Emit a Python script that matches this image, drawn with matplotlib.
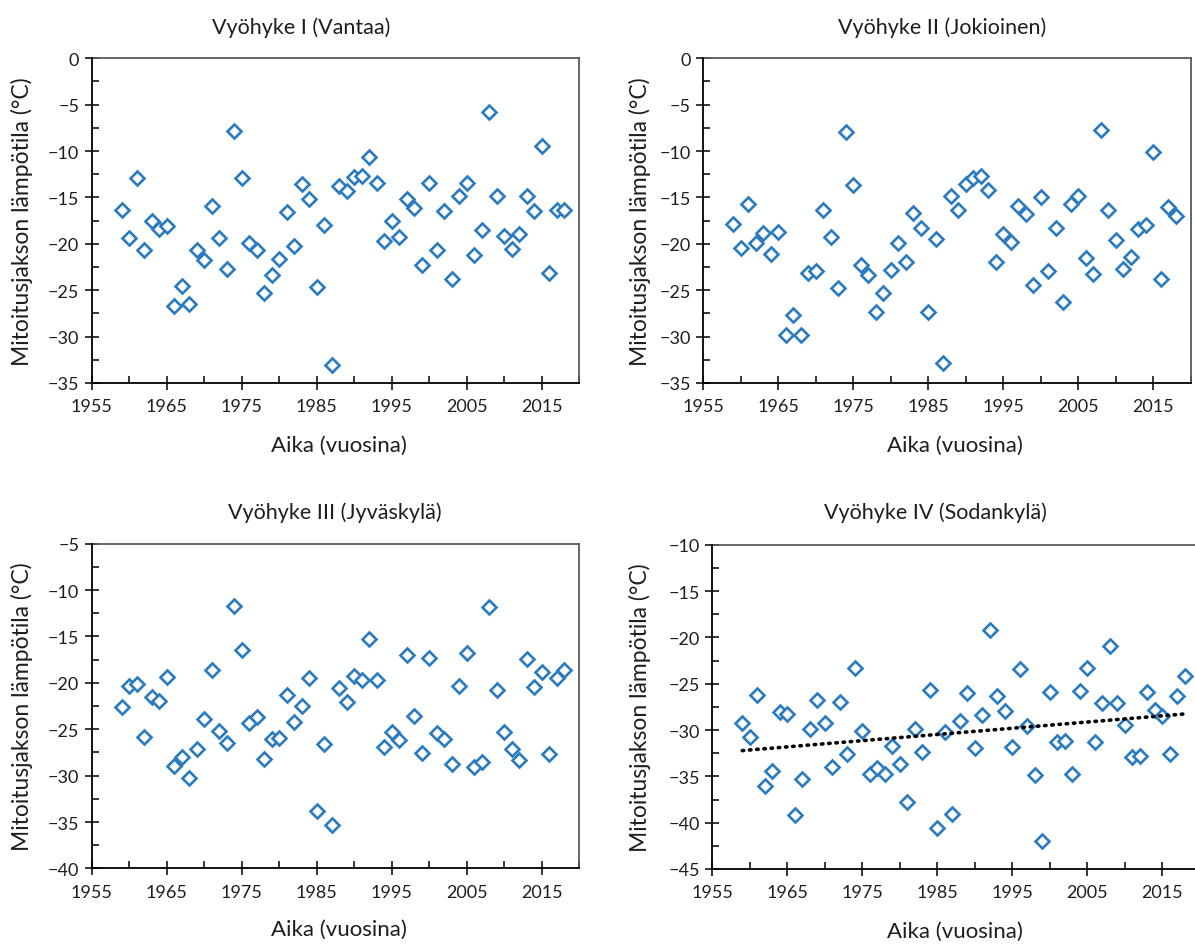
import numpy as np
import matplotlib
matplotlib.use("Agg")
import matplotlib.pyplot as plt
from matplotlib.ticker import MultipleLocator

plt.rcParams['font.family'] = ['Lato', 'DejaVu Sans']

years = list(range(1959, 2019))

vantaa = [-16.3, -19.4, -12.9, -20.65, -17.5, -18.4, -18.1, -26.7, -24.5, -26.5,
          -20.65, -21.7, -15.9, -19.4, -22.7, -7.8, -12.9, -19.9, -20.65, -25.25,
          -23.4, -21.6, -16.6, -20.2, -13.5, -15.2, -24.6, -18.0, -33.1, -13.8,
          -14.3, -12.8, -12.65, -10.6, -13.4, -19.7, -17.5, -19.3, -15.2, -16.1,
          -22.3, -13.4, -20.65, -16.45, -23.8, -14.8, -13.4, -21.2, -18.5, -5.75,
          -14.8, -19.2, -20.55, -18.9, -14.8, -16.45, -9.5, -23.1, -16.4, -16.4]

jokioinen = [-17.9, -20.5, -15.7, -19.9, -18.8, -21.05, -18.75, -29.8, -27.7, -29.8,
             -23.1, -22.95, -16.35, -19.3, -24.75, -7.9, -13.7, -22.3, -23.4, -27.3,
             -25.25, -22.8, -19.9, -22.0, -16.7, -18.3, -27.4, -19.5, -32.8, -14.8,
             -16.35, -13.55, -12.9, -12.7, -14.15, -22.0, -18.95, -19.8, -15.95, -16.8,
             -24.4, -15.0, -22.9, -18.25, -26.3, -15.7, -14.8, -21.5, -23.2, -7.7,
             -16.35, -19.6, -22.7, -21.4, -18.4, -18.0, -10.1, -23.8, -16.05, -17.05]

jyvaskyla = [-22.64, -20.34, -20.13, -25.88, -21.56, -21.92, -19.34, -28.93, -28.03, -30.3,
             -27.17, -23.94, -18.65, -25.16, -26.45, -11.68, -16.5, -24.3, -23.72, -28.25,
             -26.1, -25.98, -21.28, -24.26, -22.53, -19.52, -33.78, -26.56, -35.36, -20.56,
             -22.1, -19.3, -19.66, -15.28, -19.73, -26.95, -25.27, -26.16, -16.97, -23.54,
             -27.53, -17.32, -25.45, -26.09, -28.75, -20.31, -16.82, -29.11, -28.57, -11.79,
             -20.81, -25.34, -27.17, -28.32, -17.4, -20.41, -18.87, -27.67, -19.52, -18.58]

sodankyla = [-29.28, -30.79, -26.19, -36.04, -34.46, -28.09, -28.24, -39.17, -35.29, -29.93,
             -26.8, -29.28, -34.03, -27.01, -32.59, -23.27, -30.07, -34.75, -34.14, -34.75,
             -31.73, -33.67, -37.73, -29.89, -32.41, -25.68, -40.61, -30.18, -39.06, -29.06,
             -26.04, -31.97, -28.34, -19.2, -26.29, -27.91, -31.86, -23.41, -29.56, -34.85,
             -41.94, -25.93, -31.33, -31.15, -34.74, -25.79, -23.27, -31.33, -27.05, -20.9,
             -27.05, -29.46, -32.95, -32.84, -25.93, -27.84, -28.45, -32.59, -26.29, -24.2]

titles = ["Vyöhyke I (Vantaa)", "Vyöhyke II (Jokioinen)",
          "Vyöhyke III (Jyväskylä)", "Vyöhyke IV (Sodankylä)"]
series = [vantaa, jokioinen, jyvaskyla, sodankyla]
ylims = [(-35, 0), (-35, 0), (-40, -5), (-45, -10)]
xlabel = "Aika (vuosina)"
ylabel = "Mitoitusjakson lämpötila (°C)"

W, H = 1195, 945
fig = plt.figure(figsize=(W / 100, H / 100), dpi=100)

# panel geometry in pixels: left, top, width, height
geom = [(91.7, 59.3, 487.5, 324.7), (703.3, 59.3, 487.5, 324.7),
        (91.7, 544.7, 487.5, 324.7), (712.3, 545.7, 487.5, 324.3)]
title_pos = [(301, 28), (942, 28), (335, 513), (935, 513)]
xlab_pos = [(339, 446), (955, 446), (339, 930), (955, 932)]
ylab_x = [22, 640, 22, 640]

blue = '#2a7bbf'
txt = '#1e1e1e'

for i in range(4):
    l, t, w, h = geom[i]
    ax = fig.add_axes([l / W, 1 - (t + h) / H, w / W, h / H])
    ax.plot(years, series[i], linestyle='none', marker='D', markersize=7.2,
            markerfacecolor='white', markeredgecolor=blue, markeredgewidth=1.9,
            clip_on=False, zorder=3)
    if i == 3:
        coef = np.polyfit(years, series[i], 1)
        xs = np.array([years[0], years[-1]])
        ax.plot(xs, np.polyval(coef, xs), color='black', linewidth=2.6,
                linestyle=(0, (0.4, 1.6)), dash_capstyle='round', zorder=4)
    ax.set_xlim(1955, 2020)
    ax.set_ylim(*ylims[i])
    ax.xaxis.set_minor_locator(MultipleLocator(5))
    ax.yaxis.set_major_locator(MultipleLocator(5))
    ax.yaxis.set_minor_locator(MultipleLocator(2.5))
    ax.set_xticks(np.arange(1955, 2016, 10))
    ax.tick_params(axis='x', which='major', direction='inout', length=10, width=1.1,
                   labelsize=13, pad=6, color='black', labelcolor=txt)
    ax.tick_params(axis='x', which='minor', direction='in', length=5, width=1.1, color='black')
    ax.tick_params(axis='y', which='major', direction='inout', length=10, width=1.1,
                   labelsize=13, pad=4, color='black', labelcolor=txt)
    ax.tick_params(axis='y', which='minor', direction='in', length=5, width=1.1, color='black')
    for s in ['left', 'bottom']:
        ax.spines[s].set_color('black')
        ax.spines[s].set_linewidth(1.3)
        ax.spines[s].set_zorder(5)
    for s in ['top', 'right']:
        ax.spines[s].set_color('#595959')
        ax.spines[s].set_linewidth(1.3)
    fig.text(title_pos[i][0] / W, 1 - title_pos[i][1] / H, titles[i],
             ha='center', va='center', fontsize=15.5, color=txt)
    fig.text(xlab_pos[i][0] / W, 1 - xlab_pos[i][1] / H, xlabel,
             ha='center', va='center', fontsize=16, color=txt)
    fig.text(ylab_x[i] / W, 1 - (t + h / 2) / H, ylabel, rotation=90,
             ha='center', va='center', fontsize=16.5, color=txt)

fig.savefig("out.png", dpi=100, facecolor='white')
